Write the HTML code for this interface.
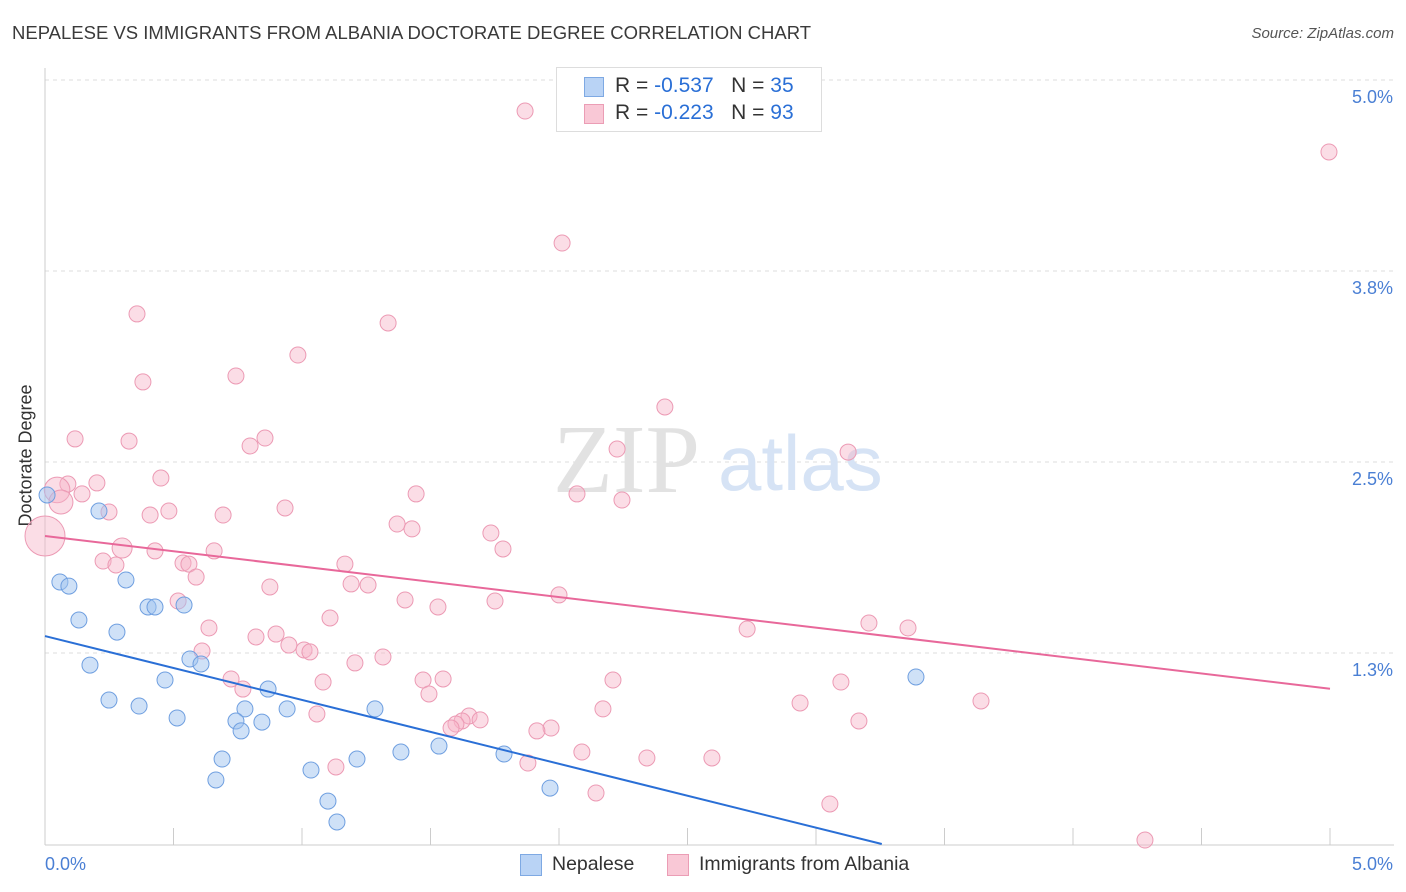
<!DOCTYPE html>
<html><head><meta charset="utf-8"><style>
body{margin:0;background:#fff;font-family:"Liberation Sans",sans-serif;}
#wrap{position:relative;width:1406px;height:892px;overflow:hidden;}
.t{position:absolute;white-space:nowrap;}
</style></head><body>
<div id="wrap">
<div class="t" style="left:12px;top:22px;font-size:18.5px;color:#3a3a3a;">NEPALESE VS IMMIGRANTS FROM ALBANIA DOCTORATE DEGREE CORRELATION CHART</div>
<div class="t" style="right:12px;top:25px;font-size:15px;color:#555;font-style:italic;">Source: ZipAtlas.com</div>
<div class="t" style="left:-45px;top:445px;font-size:18px;color:#333;transform:rotate(-90deg);">Doctorate Degree</div>
<svg id="svg" width="1406" height="892" style="position:absolute;left:0;top:0"></svg>
<div style="position:absolute;left:556px;top:67px;width:264px;height:63px;border:1px solid #ddd;background:#fff;font-size:21px;">
 <div style="position:absolute;left:27px;top:9px;width:18px;height:18px;background:#b9d3f5;border:1px solid #7ea9e3;"></div>
 <div class="t" style="left:58px;top:6px;color:#333;">R = <span style="color:#2a6fd6">-0.537</span> &nbsp; N = <span style="color:#2a6fd6">35</span></div>
 <div style="position:absolute;left:27px;top:36px;width:18px;height:18px;background:#f9c8d6;border:1px solid #eb9db5;"></div>
 <div class="t" style="left:58px;top:33px;color:#333;">R = <span style="color:#2a6fd6">-0.223</span> &nbsp; N = <span style="color:#2a6fd6">93</span></div>
</div>
<div style="position:absolute;left:520px;top:852px;font-size:19.5px;color:#333;">
 <div style="position:absolute;left:0;top:2px;width:20px;height:20px;background:#b9d3f5;border:1px solid #7ea9e3;"></div>
 <div class="t" style="left:32px;top:1px;">Nepalese</div>
 <div style="position:absolute;left:147px;top:2px;width:20px;height:20px;background:#f9c8d6;border:1px solid #eb9db5;"></div>
 <div class="t" style="left:179px;top:1px;">Immigrants from Albania</div>
</div>
</div>
<script>
const blueX=[0.008,0.058,0.093,0.21,0.315,0.132,0.28,0.175,0.401,0.428,0.541,0.564,0.607,0.467,0.249,0.366,0.514,0.868,0.778,0.942,1.284,0.743,0.844,0.763,0.689,0.665,1.035,1.214,1.385,1.533,1.786,1.965,1.101,1.136,3.389];
const blueY=[2.284,1.715,1.688,2.179,1.728,1.466,1.387,1.171,1.551,1.551,1.564,1.211,1.178,1.073,0.942,0.903,0.825,1.014,0.884,0.884,0.884,0.805,0.798,0.740,0.556,0.419,0.484,0.556,0.602,0.641,0.589,0.366,0.281,0.144,1.093];
const pinkX=[1.868,4.996,2.012,0.358,1.335,0.984,0.381,0.743,2.412,0.117,0.327,0.856,0.798,3.125,2.226,0.451,0.202,0.089,0.047,0.144,0.062,1.444,2.070,2.245,0.249,0.409,0.482,0.693,0.934,1.370,1.428,1.735,0,0.300,0.428,0.658,1.782,0.226,0.276,0.537,0.560,0.588,1.167,1.191,1.257,0.875,2.0,0.518,1.401,1.751,1.529,1.109,0.638,0.821,0.899,2.732,3.206,3.358,0.949,1.008,1.031,0.611,1.315,1.206,0.724,0.770,1.082,1.471,1.549,1.494,2.210,3.097,2.171,2.938,3.642,1.058,1.650,1.623,1.599,1.693,1.580,1.969,1.914,3.167,2.089,2.342,2.595,1.879,1.132,2.144,3.054,4.280];
const pinkY=[4.797,4.529,3.933,3.469,3.410,3.200,3.024,3.063,2.860,2.651,2.637,2.657,2.605,2.565,2.585,2.395,2.363,2.356,2.317,2.291,2.238,2.291,2.291,2.251,2.173,2.153,2.179,2.153,2.199,2.094,2.062,2.035,2.016,1.937,1.918,1.918,1.931,1.852,1.826,1.839,1.832,1.747,1.832,1.702,1.695,1.682,1.630,1.590,1.597,1.590,1.551,1.479,1.414,1.355,1.374,1.407,1.446,1.414,1.302,1.270,1.257,1.263,1.224,1.185,1.080,1.014,1.060,1.073,1.080,0.982,1.073,1.060,0.884,0.923,0.936,0.851,0.838,0.805,0.785,0.812,0.759,0.759,0.740,0.805,0.602,0.563,0.563,0.530,0.504,0.334,0.262,0.026];
const pinkSize=[1,1,1,1,1,1,1,1,1,1,1,1,1,1,1,1,1,1,1.6,1,1.5,1,1,1,1,1,1,1,1,1,1,1,2.5,1.25,1,1,1,1,1,1,1,1,1,1,1,1,1,1,1,1,1,1,1,1,1,1,1,1,1,1,1,1,1,1,1,1,1,1,1,1,1,1,1,1,1,1,1,1,1,1,1,1,1,1,1,1,1,1,1,1,1,1];
const blueTrend=[1.361,-0.418];
const pinkTrend=[2.016,-0.2];
const xTicks=["0.0%","5.0%"];
const yTickVals=[1.25,2.5,3.75,5.0];
const yTickLabels=["1.3%","2.5%","3.8%","5.0%"];
const X=v=>45+v/5*1285, Y=v=>844-v/5*764;
const svg=document.getElementById('svg'),NS='http://www.w3.org/2000/svg';
function mk(t,a){const e=document.createElementNS(NS,t);for(const k in a)e.setAttribute(k,a[k]);svg.appendChild(e);return e;}
yTickVals.forEach((v,i)=>{
 const g=mk('line',{x1:45,x2:1394,y1:Y(v),y2:Y(v),stroke:'#ddd','stroke-dasharray':'4,4'});
 
 
 const t=mk('text',{x:1393,y:Y(v)+23,'text-anchor':'end',fill:'#4a7fd4','font-size':18,'font-family':'Liberation Sans'});t.textContent=yTickLabels[i];
 
 
});
const ax=mk('line',{x1:45,x2:1394,y1:845,y2:845,stroke:'#ccc'});


const ay=mk('line',{x1:45,x2:45,y1:68,y2:845,stroke:'#ccc'});


for(let i=0;i<=10;i++){const tk=mk('line',{x1:X(i*0.5),x2:X(i*0.5),y1:828,y2:845,stroke:'#ccc'});
 
 }
[[0,'start',45],[5,'end',1393]].forEach(([v,a,x],i)=>{const t=mk('text',{x:x,y:870,'text-anchor':a,fill:'#4a7fd4','font-size':18,'font-family':'Liberation Sans'});t.textContent=xTicks[i];
 
 });
const w1=mk('text',{x:553,y:492,fill:'#e2e2e2','font-size':98,'font-family':'Liberation Serif'});w1.textContent='ZIP';


const w2=mk('text',{x:718,y:490,fill:'#d6e3f5','font-size':78,'font-family':'Liberation Sans'});w2.textContent='atlas';


pinkX.forEach((v,i)=>{const c=mk('circle',{cx:X(v),cy:Y(pinkY[i]),r:8*pinkSize[i],fill:'rgba(247,180,200,0.45)',stroke:'#ec9ab4','stroke-width':1});
 
 });
blueX.forEach((v,i)=>{const c=mk('circle',{cx:X(v),cy:Y(blueY[i]),r:8,fill:'rgba(160,195,240,0.5)',stroke:'#6f9fe0','stroke-width':1});
 
 });
const bEnd=-blueTrend[0]/blueTrend[1];
const bl=mk('line',{x1:X(0),y1:Y(blueTrend[0]),x2:X(bEnd),y2:Y(0),stroke:'#2a6fd6','stroke-width':2});


const pl=mk('line',{x1:X(0),y1:Y(pinkTrend[0]),x2:X(5),y2:Y(pinkTrend[0]+5*pinkTrend[1]),stroke:'#e8689a','stroke-width':2});


</script>
</body></html>
